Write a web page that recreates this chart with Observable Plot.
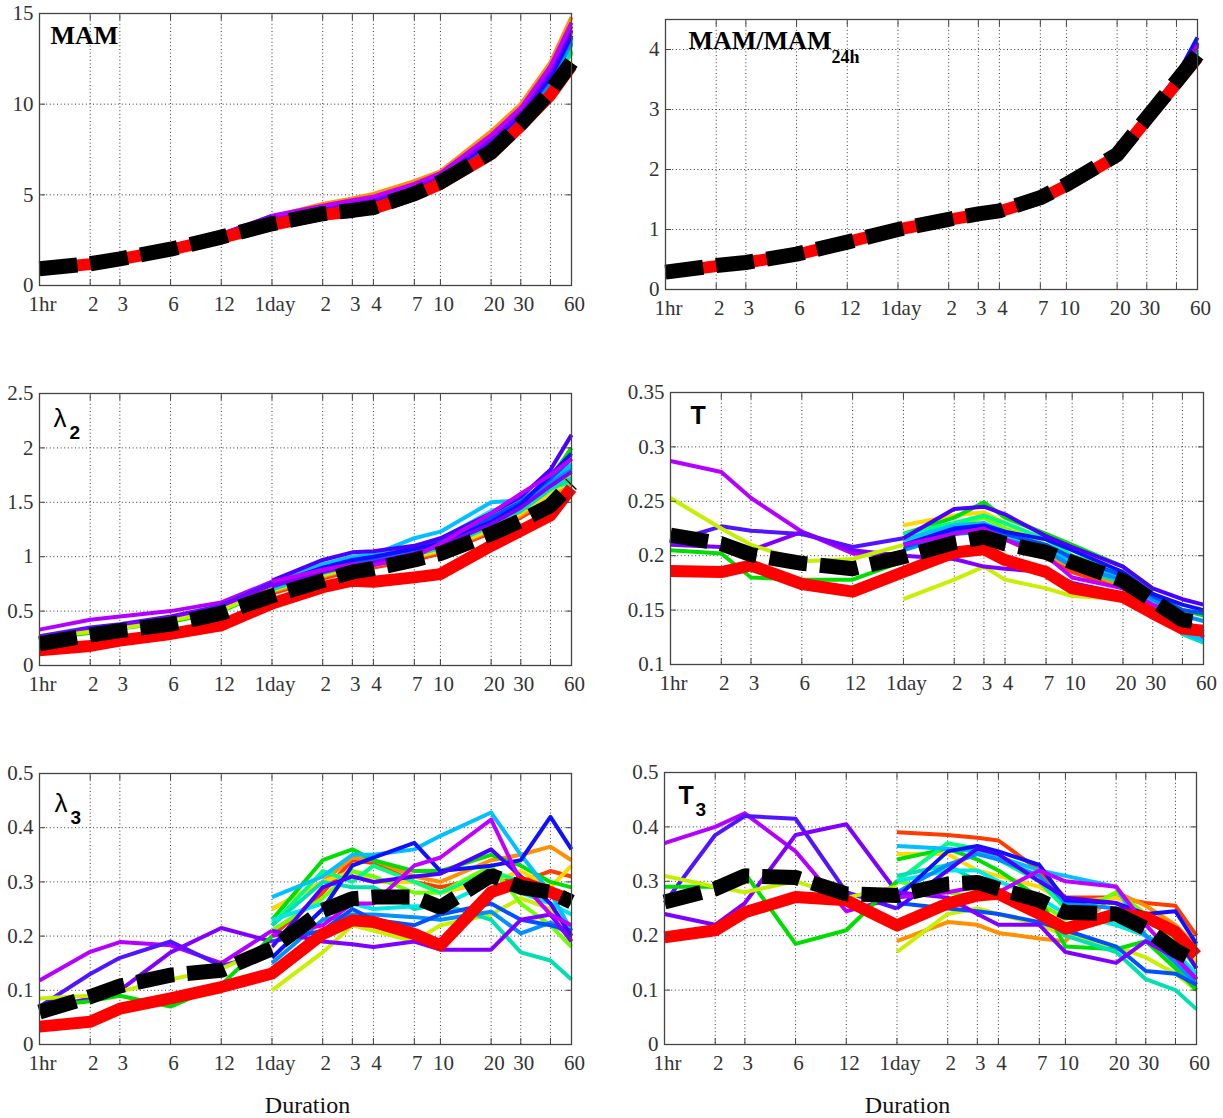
<!DOCTYPE html>
<html><head><meta charset="utf-8">
<script src="https://cdn.jsdelivr.net/npm/d3@7"></script>
<script src="https://cdn.jsdelivr.net/npm/@observablehq/plot@0.6"></script>
<style>
body{margin:0;background:#fff;}
#root{position:relative;width:1223px;height:1118px;background:#fff;overflow:hidden;}
.panel{position:absolute;}
.panel svg{overflow:visible;}
</style></head><body><div id="root"></div>
<script>
// ---- x axis: durations in hours ----
const durations = [1,2,3,6,12,24,48,72,96,168,240,480,720,1080,1440];
const tickHours = [1,2,3,6,12,24,48,72,96,168,240,480,720,1440];
const tickLabels = ["1hr","2","3","6","12","1day","2","3","4","7","10","20","30","60"];
const gridHours = [1,2,3,6,12,24,48,72,96,168,240,480,720,1080,1440];

// ---- colours ----
const hourlyColors = ["#b400ff","#5214ff","#8000ff","#00dd00","#c4f000"];
const dailyColors = ["#ff3c00","#ff9000","#ffd800","#c8f000","#70ff00","#00e000","#00ff80","#00e0b0",
                     "#00e8e8","#00c0ff","#0090ff","#0050ff","#1010ff","#4a00ff","#8000ff","#c000ff"];

// ---- MAM ----
const mamRed   = [0.9,1.18,1.45,1.97,2.63,3.35,3.9,4.08,4.25,4.98,5.6,7.25,8.8,10.5,12.1];
const mamBlack = [0.92,1.2,1.47,2.0,2.67,3.4,3.96,4.14,4.3,5.06,5.7,7.36,8.93,10.7,12.3];
const mamHourly = [
 [1.0,1.32,1.62,2.1,2.85,3.8],[0.98,1.28,1.58,2.05,2.78,3.7],[1.0,1.3,1.6,2.08,2.82,3.85],
 [0.95,1.25,1.52,2.0,2.7,3.55],[0.96,1.26,1.55,2.02,2.72,3.6]];
const mamDaily = [
 [3.6,4.2,4.5,4.7,5.4,6.0,7.9,9.4,11.6,14.0],[3.8,4.5,4.8,5.05,5.75,6.3,8.5,10.0,12.3,14.8],
 [3.5,4.05,4.3,4.5,5.25,5.85,7.65,9.1,11.1,13.0],[3.45,3.95,4.2,4.4,5.1,5.7,7.5,8.9,10.9,12.9],
 [3.45,3.95,4.2,4.4,5.1,5.75,7.55,8.95,10.95,12.8],[3.5,4.0,4.25,4.45,5.2,5.8,7.6,9.0,11.0,13.3],
 [3.5,4.0,4.3,4.5,5.2,5.8,7.6,9.05,11.1,13.5],[3.45,3.95,4.2,4.4,5.1,5.7,7.5,8.9,10.9,12.9],
 [3.55,4.05,4.3,4.55,5.25,5.85,7.7,9.15,11.2,13.6],[3.6,4.1,4.35,4.6,5.3,5.9,7.7,9.2,11.3,13.6],
 [3.55,4.05,4.3,4.55,5.25,5.85,7.7,9.1,11.2,13.4],[3.65,4.15,4.4,4.65,5.35,5.95,7.8,9.3,11.4,13.7],
 [3.7,4.2,4.45,4.7,5.4,6.0,7.9,9.4,11.5,13.8],[3.75,4.3,4.55,4.75,5.45,6.05,8.0,9.5,11.7,14.1],
 [3.8,4.35,4.6,4.8,5.5,6.1,8.1,9.6,11.9,14.3],[3.85,4.4,4.7,4.9,5.6,6.2,8.3,9.8,12.1,14.5]];
const mamYTicks = [0,5,10,15];

// ---- MAM / MAM24h ----
const ratioRed   = [0.28,0.39,0.45,0.58,0.79,1.0,1.16,1.25,1.30,1.51,1.73,2.22,2.83,3.43,3.86];
const ratioBlack = [0.29,0.40,0.45,0.59,0.79,1.0,1.17,1.26,1.31,1.53,1.75,2.25,2.86,3.47,3.91];
const ratioHourly = [
 [0.30,0.40,0.46,0.60,0.80,1],[0.28,0.39,0.45,0.59,0.79,1],[0.29,0.40,0.45,0.58,0.78,1],
 [0.29,0.41,0.47,0.61,0.80,1],[0.29,0.40,0.46,0.60,0.80,1]];
const ratioDaily = [
 [1,1.15,1.24,1.29,1.5,1.72,2.2,2.8,3.4,3.88],[1,1.15,1.24,1.3,1.51,1.73,2.22,2.83,3.44,3.9],
 [1,1.16,1.25,1.31,1.52,1.74,2.24,2.85,3.45,3.92],[1,1.15,1.24,1.3,1.51,1.73,2.23,2.84,3.44,3.9],
 [1,1.16,1.25,1.3,1.52,1.74,2.24,2.85,3.46,3.93],[1,1.16,1.25,1.3,1.52,1.74,2.24,2.85,3.46,3.95],
 [1,1.16,1.25,1.31,1.53,1.75,2.25,2.86,3.47,3.96],[1,1.15,1.24,1.3,1.52,1.74,2.24,2.85,3.45,3.94],
 [1,1.16,1.25,1.31,1.53,1.75,2.25,2.86,3.48,3.98],[1,1.16,1.25,1.31,1.53,1.75,2.25,2.86,3.48,4.0],
 [1,1.16,1.26,1.32,1.54,1.76,2.26,2.87,3.5,4.05],[1,1.17,1.26,1.32,1.54,1.76,2.27,2.88,3.52,4.12],
 [1,1.17,1.27,1.33,1.55,1.77,2.28,2.9,3.55,4.2],[1,1.17,1.26,1.32,1.54,1.76,2.27,2.88,3.5,4.1],
 [1,1.17,1.26,1.32,1.54,1.76,2.27,2.88,3.5,4.08],[1,1.16,1.26,1.32,1.54,1.76,2.26,2.87,3.49,4.05]];
const ratioYTicks = [0,1,2,3,4];

// ---- lambda2 ----
const l2Red   = [0.14,0.18,0.23,0.29,0.37,0.57,0.72,0.78,0.77,0.81,0.84,1.10,1.24,1.38,1.63];
const l2Black = [0.20,0.28,0.32,0.38,0.48,0.64,0.78,0.86,0.89,0.97,1.03,1.21,1.33,1.47,1.67];
const l2Hourly = [
 [0.33,0.42,0.45,0.50,0.58,0.77],[0.27,0.35,0.38,0.45,0.55,0.76],[0.26,0.33,0.37,0.44,0.53,0.74],
 [0.24,0.30,0.34,0.40,0.50,0.70],[0.25,0.31,0.34,0.41,0.51,0.70]];
const l2Daily = [
 [0.66,0.80,0.87,0.90,0.97,1.03,1.22,1.36,1.52,1.64],[0.68,0.82,0.89,0.92,0.99,1.05,1.24,1.38,1.55,1.66],
 [0.70,0.84,0.90,0.93,1.0,1.06,1.25,1.40,1.58,1.70],[0.69,0.83,0.9,0.92,1.0,1.06,1.27,1.43,1.60,1.75],
 [0.70,0.85,0.91,0.94,1.02,1.08,1.30,1.42,1.62,1.78],[0.72,0.88,0.95,0.98,1.05,1.10,1.30,1.45,1.72,2.0],
 [0.70,0.86,0.93,0.96,1.04,1.1,1.33,1.42,1.64,1.68],[0.70,0.85,0.92,0.95,1.02,1.08,1.28,1.42,1.62,1.72],
 [0.73,0.9,0.97,1.0,1.1,1.16,1.42,1.5,1.68,1.82],[0.75,0.93,1.0,1.02,1.17,1.23,1.50,1.52,1.70,1.85],
 [0.72,0.87,0.95,0.98,1.06,1.12,1.35,1.46,1.68,1.80],[0.73,0.89,0.96,0.99,1.08,1.14,1.36,1.5,1.72,1.9],
 [0.74,0.90,0.97,1.0,1.07,1.12,1.32,1.48,1.75,1.95],[0.78,0.97,1.04,1.05,1.10,1.17,1.40,1.55,1.80,2.12],
 [0.73,0.86,0.92,0.95,1.03,1.1,1.3,1.45,1.65,1.78],[0.77,0.88,0.93,0.92,1.0,1.12,1.40,1.58,1.75,1.90]];
const l2YTicks = [0,0.5,1,1.5,2,2.5];

// ---- T ----
const tRed   = [0.186,0.185,0.191,0.174,0.167,0.185,0.203,0.206,0.196,0.185,0.170,0.162,0.147,0.133,0.131];
const tBlack = [0.219,0.211,0.201,0.193,0.188,0.199,0.212,0.217,0.211,0.203,0.194,0.177,0.159,0.141,0.138];
const tHourly = [
 [0.287,0.277,0.253,0.222,0.202,0.20],[0.213,0.227,0.223,0.220,0.208,0.216],[0.21,0.208,0.205,0.222,0.205,0.20],
 [0.205,0.202,0.18,0.178,0.178,0.195],[0.253,0.225,0.21,0.195,0.197,0.21]];
const tDaily = [
 [0.21,0.222,0.226,0.215,0.198,0.185,0.17,0.152,0.135,0.13],[0.215,0.225,0.228,0.22,0.2,0.19,0.172,0.15,0.135,0.128],
 [0.228,0.237,0.24,0.23,0.21,0.2,0.18,0.155,0.135,0.125],[0.16,0.178,0.19,0.178,0.17,0.163,0.16,0.145,0.13,0.122],
 [0.215,0.228,0.235,0.225,0.21,0.195,0.18,0.155,0.135,0.125],[0.22,0.235,0.249,0.235,0.22,0.21,0.19,0.165,0.15,0.145],
 [0.22,0.23,0.237,0.23,0.215,0.2,0.185,0.16,0.14,0.13],[0.21,0.225,0.23,0.22,0.205,0.19,0.175,0.155,0.128,0.12],
 [0.212,0.226,0.229,0.22,0.204,0.192,0.178,0.155,0.13,0.122],[0.215,0.228,0.23,0.222,0.205,0.195,0.18,0.155,0.13,0.122],
 [0.205,0.22,0.222,0.215,0.205,0.19,0.178,0.16,0.145,0.14],[0.208,0.222,0.225,0.22,0.21,0.198,0.182,0.163,0.15,0.147],
 [0.21,0.225,0.228,0.222,0.215,0.205,0.185,0.165,0.155,0.15],[0.216,0.243,0.245,0.238,0.218,0.208,0.19,0.17,0.16,0.155],
 [0.20,0.197,0.19,0.188,0.185,0.175,0.165,0.15,0.14,0.13],[0.21,0.22,0.225,0.215,0.2,0.18,0.17,0.155,0.145,0.125]];
const tYTicks = [0.1,0.15,0.2,0.25,0.3,0.35];

// ---- lambda3 ----
const l3Red   = [0.033,0.042,0.066,0.085,0.106,0.131,0.204,0.229,0.226,0.204,0.183,0.281,0.30,0.281,0.266];
const l3Black = [0.06,0.088,0.108,0.128,0.137,0.177,0.247,0.269,0.272,0.272,0.253,0.312,0.29,0.281,0.263];
const l3Hourly = [
 [0.118,0.171,0.189,0.183,0.15,0.21],[0.07,0.13,0.16,0.19,0.145,0.17],[0.065,0.085,0.10,0.17,0.215,0.19],
 [0.07,0.08,0.09,0.07,0.11,0.20],[0.085,0.09,0.098,0.12,0.14,0.18]];
const l3Daily = [
 [0.20,0.28,0.34,0.335,0.30,0.29,0.31,0.30,0.32,0.31],[0.25,0.30,0.345,0.34,0.31,0.30,0.34,0.35,0.365,0.34],
 [0.25,0.30,0.32,0.30,0.30,0.28,0.30,0.32,0.29,0.33],[0.10,0.17,0.22,0.21,0.19,0.22,0.24,0.27,0.25,0.19],
 [0.21,0.27,0.32,0.31,0.28,0.28,0.33,0.26,0.22,0.18],[0.23,0.34,0.36,0.34,0.32,0.32,0.35,0.33,0.30,0.29],
 [0.22,0.32,0.30,0.33,0.30,0.28,0.32,0.30,0.28,0.26],[0.22,0.30,0.29,0.29,0.25,0.26,0.23,0.17,0.155,0.12],
 [0.23,0.26,0.26,0.25,0.255,0.255,0.30,0.28,0.26,0.24],[0.272,0.31,0.35,0.35,0.36,0.385,0.428,0.35,0.28,0.21],
 [0.15,0.23,0.24,0.24,0.235,0.23,0.245,0.205,0.225,0.20],[0.19,0.21,0.25,0.23,0.22,0.24,0.26,0.23,0.22,0.21],
 [0.16,0.25,0.33,0.345,0.372,0.32,0.33,0.34,0.42,0.36],[0.18,0.29,0.31,0.30,0.31,0.315,0.36,0.31,0.26,0.20],
 [0.21,0.19,0.185,0.18,0.19,0.175,0.175,0.23,0.24,0.19],[0.20,0.22,0.26,0.26,0.33,0.345,0.415,0.30,0.24,0.22]];
const l3YTicks = [0,0.1,0.2,0.3,0.4,0.5];

// ---- T3 ----
const t3Red   = [0.197,0.21,0.243,0.271,0.265,0.219,0.259,0.274,0.277,0.24,0.213,0.24,0.234,0.207,0.164];
const t3Black = [0.262,0.286,0.31,0.307,0.277,0.274,0.295,0.298,0.286,0.265,0.243,0.24,0.213,0.173,0.152];
const t3Hourly = [
 [0.37,0.40,0.425,0.355,0.245,0.27],[0.26,0.385,0.42,0.415,0.28,0.25],[0.24,0.22,0.26,0.385,0.405,0.28],
 [0.29,0.29,0.315,0.185,0.21,0.30],[0.31,0.29,0.28,0.30,0.27,0.29]];
const t3Daily = [
 [0.39,0.385,0.38,0.375,0.32,0.27,0.27,0.26,0.255,0.2],[0.19,0.225,0.22,0.205,0.195,0.19,0.28,0.255,0.22,0.18],
 [0.35,0.35,0.32,0.31,0.29,0.26,0.27,0.24,0.2,0.15],[0.17,0.24,0.25,0.24,0.22,0.2,0.18,0.16,0.13,0.1],
 [0.3,0.28,0.27,0.28,0.26,0.23,0.28,0.24,0.19,0.14],[0.34,0.36,0.34,0.32,0.27,0.18,0.175,0.19,0.14,0.1],
 [0.3,0.37,0.36,0.34,0.3,0.25,0.22,0.2,0.16,0.12],[0.31,0.33,0.3,0.28,0.24,0.2,0.17,0.12,0.1,0.065],
 [0.3,0.32,0.32,0.3,0.27,0.24,0.22,0.2,0.17,0.13],[0.365,0.36,0.355,0.345,0.32,0.31,0.29,0.2,0.17,0.12],
 [0.28,0.33,0.35,0.34,0.31,0.26,0.25,0.2,0.15,0.11],[0.26,0.25,0.245,0.24,0.225,0.21,0.18,0.135,0.13,0.11],
 [0.27,0.355,0.365,0.355,0.33,0.265,0.26,0.24,0.245,0.185],[0.25,0.32,0.36,0.35,0.3,0.27,0.26,0.23,0.2,0.14],
 [0.28,0.27,0.24,0.22,0.22,0.17,0.15,0.19,0.16,0.12],[0.27,0.28,0.29,0.28,0.32,0.30,0.29,0.22,0.16,0.12]];
const t3YTicks = [0,0.1,0.2,0.3,0.4,0.5];

// ---------------------------------------------------------------
const labelOf = new Map(tickHours.map((h, i) => [h, tickLabels[i]]));
const serif = "'Liberation Serif','Times New Roman',serif";
const sans = "'Liberation Sans',Arial,sans-serif";

function rows(values, start) {
  return values.map((v, j) => ({x: durations[start + j], y: v}));
}

function panel(cfg) {
  const dotted = {stroke: "#333", strokeOpacity: 1, strokeWidth: 1, strokeDasharray: "1,2.6"};
  const marks = [Plot.gridX(gridHours, dotted), Plot.gridY(cfg.yTicks, dotted)];
  cfg.daily.forEach((s, i) => marks.push(Plot.line(rows(s, 5), {x: "x", y: "y", stroke: dailyColors[i], strokeWidth: 4, strokeLinecap: "butt"})));
  cfg.hourly.forEach((s, i) => marks.push(Plot.line(rows(s, 0), {x: "x", y: "y", stroke: hourlyColors[i], strokeWidth: 4, strokeLinecap: "butt"})));
  marks.push(Plot.line(rows(cfg.red, 0), {x: "x", y: "y", stroke: "#ff0000", strokeWidth: 12, strokeLinejoin: "round", strokeLinecap: "butt"}));
  marks.push(Plot.line(rows(cfg.black, 0), {x: "x", y: "y", stroke: "#000000", strokeWidth: 15, strokeDasharray: "38,13", strokeLinejoin: "miter", strokeLinecap: "butt"}));
  marks.push(Plot.frame({stroke: "#444", strokeWidth: 1.3}));
  // inward ticks (no tick text, no axis label)
  const tk = {tickSize: -6, fill: "none", stroke: "#444", label: null};
  marks.push(Plot.axisX(gridHours, {anchor: "bottom", ...tk}));
  marks.push(Plot.axisX(gridHours, {anchor: "top", ...tk}));
  marks.push(Plot.axisY(cfg.yTicks, {anchor: "left", ...tk}));
  marks.push(Plot.axisY(cfg.yTicks, {anchor: "right", ...tk}));
  // x tick labels as text marks at the bottom of the frame
  marks.push(Plot.text(tickHours, {x: d => d, frameAnchor: "bottom", lineAnchor: "top", dy: 11, dx: 3,
      text: d => labelOf.get(d), fill: "#333", fontSize: 21, fontFamily: serif}));
  // y tick labels
  marks.push(Plot.axisY(cfg.yTicks, {anchor: "left", tickSize: 0, tickPadding: 6, tickFormat: d => String(d),
      fill: "#333", stroke: "none", fontSize: 21, fontFamily: serif, label: null}));
  // titles
  cfg.titles.forEach(t => marks.push(Plot.text([t.text], {frameAnchor: "top-left", textAnchor: "start", lineAnchor: "bottom",
      dx: t.dx, dy: t.dy, fontSize: t.size, fontWeight: t.weight, fontFamily: t.font, fill: "#000"})));
  if (cfg.xlabel) marks.push(Plot.text([cfg.xlabel], {frameAnchor: "bottom", lineAnchor: "bottom", dy: 68, dx: cfg.xlabelDx || 0,
      fontSize: 24, fontFamily: serif, fill: "#111"}));

  const chart = Plot.plot({
    width: cfg.width, height: cfg.height,
    marginLeft: cfg.mL, marginRight: cfg.mR, marginTop: cfg.mT, marginBottom: cfg.mB,
    x: {type: "log", domain: [1, 1440], axis: null},
    y: {domain: cfg.yDomain, axis: null},
    style: {fontFamily: serif, fontSize: "21px", color: "#333", background: "white", overflow: "visible"},
    marks
  });
  const div = document.createElement("div");
  div.className = "panel";
  div.style.left = cfg.left + "px";
  div.style.top = cfg.top + "px";
  div.appendChild(chart);
  document.getElementById("root").appendChild(div);
}

panel({left: 0, top: 0, width: 600, height: 330, mL: 39, mR: 29, mT: 13, mB: 45,
  yDomain: [0, 15], yTicks: mamYTicks, red: mamRed, black: mamBlack, hourly: mamHourly, daily: mamDaily,
  titles: [{text: "MAM", dx: 11, dy: 30, size: 26, weight: "bold", font: serif}]});

panel({left: 620, top: 0, width: 603, height: 330, mL: 45, mR: 26, mT: 19, mB: 41,
  yDomain: [0, 4.5], yTicks: ratioYTicks, red: ratioRed, black: ratioBlack, hourly: ratioHourly, daily: ratioDaily,
  titles: [{text: "MAM/MAM", dx: 23, dy: 29, size: 26, weight: "bold", font: serif},
           {text: "24h", dx: 166, dy: 43, size: 18, weight: "bold", font: serif}]});

panel({left: 0, top: 380, width: 600, height: 330, mL: 39, mR: 29, mT: 13, mB: 45,
  yDomain: [0, 2.5], yTicks: l2YTicks, red: l2Red, black: l2Black, hourly: l2Hourly, daily: l2Daily,
  titles: [{text: "λ", dx: 14, dy: 33, size: 26, weight: "normal", font: sans},
           {text: "2", dx: 30, dy: 45, size: 19, weight: "bold", font: sans}]});

panel({left: 620, top: 380, width: 603, height: 330, mL: 50, mR: 20, mT: 12, mB: 46,
  yDomain: [0.1, 0.35], yTicks: tYTicks, red: tRed, black: tBlack, hourly: tHourly, daily: tDaily,
  titles: [{text: "T", dx: 20, dy: 31, size: 25, weight: "bold", font: sans}]});

panel({left: 0, top: 760, width: 600, height: 358, mL: 39, mR: 29, mT: 13, mB: 74,
  yDomain: [0, 0.5], yTicks: l3YTicks, red: l3Red, black: l3Black, hourly: l3Hourly, daily: l3Daily,
  titles: [{text: "λ", dx: 15, dy: 38, size: 26, weight: "normal", font: sans},
           {text: "3", dx: 31, dy: 50, size: 19, weight: "bold", font: sans}],
  xlabel: "Duration", xlabelDx: 2});

panel({left: 620, top: 760, width: 603, height: 358, mL: 44, mR: 27, mT: 12, mB: 74,
  yDomain: [0, 0.5], yTicks: t3YTicks, red: t3Red, black: t3Black, hourly: t3Hourly, daily: t3Daily,
  titles: [{text: "T", dx: 14, dy: 31, size: 25, weight: "bold", font: sans},
           {text: "3", dx: 31, dy: 43, size: 19, weight: "bold", font: sans}],
  xlabel: "Duration", xlabelDx: -23});
</script></body></html>
